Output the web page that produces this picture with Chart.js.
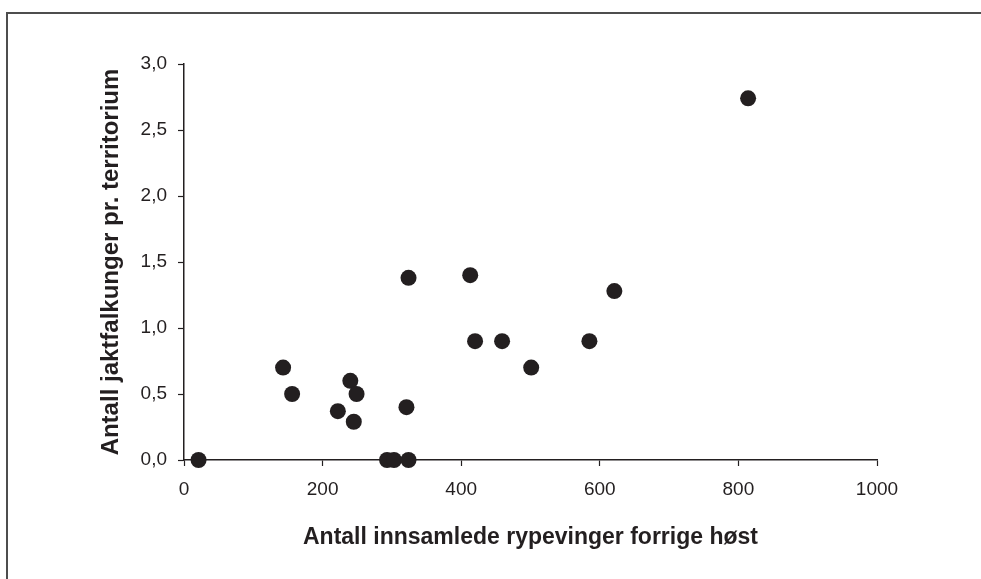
<!DOCTYPE html>
<html>
<head>
<meta charset="utf-8">
<script src="https://cdn.jsdelivr.net/npm/chart.js@4/dist/chart.umd.min.js"></script>
<style>
  html, body { margin: 0; padding: 0; background: #fff; }
  #wrap { width: 981px; height: 579px; position: relative; }
</style>
</head>
<body>
<div id="wrap"><canvas id="chart" width="981" height="579"></canvas></div>
<script>
// ryper samlet inn (x) mot jaktfalkunger per territorium (y)
const rypevinger = [21, 143, 156, 222, 240, 245, 249, 293, 303, 324, 321, 324, 413, 420, 459, 501, 585, 621, 814];
const falkunger  = [0.0, 0.70, 0.50, 0.37, 0.60, 0.29, 0.50, 0.0, 0.0, 0.0, 0.40, 1.38, 1.40, 0.90, 0.90, 0.70, 0.90, 1.28, 2.74];

const xTicks = [0, 200, 400, 600, 800, 1000];
const yTicks = [0, 0.5, 1.0, 1.5, 2.0, 2.5, 3.0];

const xTitle = 'Antall innsamlede rypevinger forrige høst';
const yTitle = 'Antall jaktfalkunger pr. territorium';

const ink = '#231f20';
const fam = '"Liberation Sans", Arial, sans-serif';

// ramme rundt figuren (bare topp og venstre synlig)
const framePlugin = {
    id: 'frame',
    beforeDraw(chart) {
        const c = chart.ctx;
        c.save();
        c.strokeStyle = '#4d4d4d';
        c.lineWidth = 2;
        c.beginPath();
        c.moveTo(7, 579);
        c.lineTo(7, 13);
        c.lineTo(981, 13);
        c.stroke();
        c.restore();
    }
};

const points = rypevinger.map((x, i) => ({ x, y: falkunger[i] }));

new Chart(document.getElementById('chart'), {
    type: 'scatter',
    data: {
        datasets: [{
            data: points,
            backgroundColor: ink,
            borderWidth: 0,
            pointRadius: 8,
            pointHoverRadius: 8,
            clip: false
        }]
    },
    options: {
        responsive: false,
        animation: false,
        layout: { padding: { left: 0, right: 104, top: 64, bottom: 0 } },
        plugins: { legend: { display: false }, tooltip: { enabled: false } },
        scales: {
            x: {
                type: 'linear',
                min: 0, max: 1000,
                afterBuildTicks: s => { s.ticks = xTicks.map(v => ({ value: v })); },
                afterFit: s => { s.height = 119; },
                grid: { drawOnChartArea: false, drawTicks: true, tickLength: 6, color: ink, tickWidth: 1.2 },
                border: { color: ink, width: 1.5 },
                ticks: { color: ink, font: { family: fam, size: 19 }, padding: 12, maxRotation: 0, callback: v => String(v) },
                title: { display: true, text: xTitle, color: ink, font: { family: fam, size: 23, weight: 'bold' }, padding: { top: 0, bottom: 28 } }
            },
            y: {
                type: 'linear',
                min: 0, max: 3,
                afterBuildTicks: s => { s.ticks = yTicks.map(v => ({ value: v })); },
                afterFit: s => { s.width = 184; },
                grid: { drawOnChartArea: false, drawTicks: true, tickLength: 6, color: ink, tickWidth: 1.2 },
                border: { color: ink, width: 1.5 },
                ticks: {
                    color: ink, font: { family: fam, size: 19 }, padding: 11,
                    callback: v => v.toFixed(1).replace('.', ',')
                },
                title: { display: true, text: yTitle, color: ink, font: { family: fam, size: 24, weight: 'bold' }, padding: { top: 97, bottom: 0 } }
            }
        }
    },
    plugins: [framePlugin]
});
</script>
</body>
</html>
